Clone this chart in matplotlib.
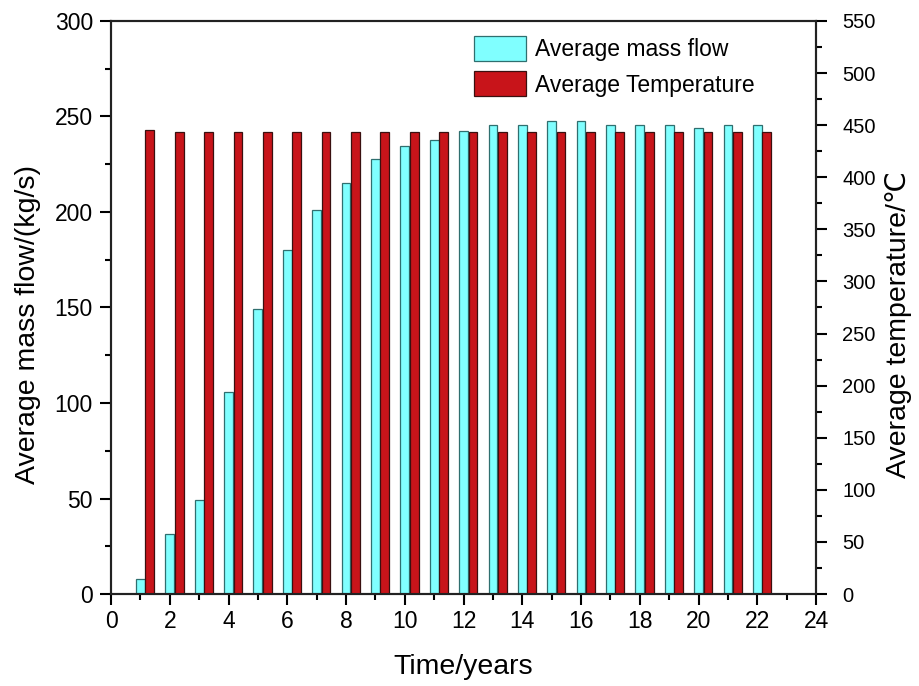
import numpy as np
import matplotlib
matplotlib.use("Agg")
import matplotlib.pyplot as plt
from matplotlib.ticker import MultipleLocator

plt.rcParams["font.family"] = ["Liberation Sans", "DejaVu Sans"]

# data
years = np.arange(1, 23)
mass_flow = [8.0, 31.3, 49.3, 105.7, 149.0, 180.0, 201.3, 215.3, 227.5, 234.8, 237.8,
             242.3, 245.6, 245.6, 247.9, 247.9, 245.6, 245.6, 245.6, 243.9, 245.6, 245.6]
temperature = [445.5, 443.0, 443.0, 443.0, 443.0, 443.0, 443.0, 443.0, 443.0, 443.0, 443.0,
               443.0, 443.0, 443.0, 443.0, 443.0, 443.0, 443.0, 443.0, 443.0, 443.0, 443.0]

bar_w = 0.3
cyan = "#80FFFF"
red = "#C8141A"

fig = plt.figure(figsize=(9.19, 6.86), dpi=100)
ax1 = fig.add_axes([0.1208, 0.1341, 0.7672, 0.8353])
ax2 = ax1.twinx()

b1 = ax1.bar(years, mass_flow, width=bar_w, color=cyan, edgecolor="#2F6F6F",
             linewidth=0.9, label="Average mass flow", zorder=2)
b2 = ax2.bar(years + 0.32, temperature, width=bar_w, color=red, edgecolor="#3A1010",
             linewidth=0.9, label="Average Temperature", zorder=2)

ax1.set_xlim(0, 24)
ax1.set_ylim(0, 300)
ax2.set_ylim(0, 550)

ax1.xaxis.set_major_locator(MultipleLocator(2))
ax1.xaxis.set_minor_locator(MultipleLocator(1))
ax1.yaxis.set_major_locator(MultipleLocator(50))
ax1.yaxis.set_minor_locator(MultipleLocator(25))
ax2.yaxis.set_major_locator(MultipleLocator(50))
ax2.yaxis.set_minor_locator(MultipleLocator(25))

for ax in (ax1, ax2):
    ax.tick_params(which="major", direction="out", length=8, width=1.5, labelsize=16.5)
    ax.tick_params(which="minor", direction="out", length=4, width=1.5)
    for s in ax.spines.values():
        s.set_linewidth(1.5)
        s.set_color("#222222")
ax1.tick_params(axis="x", which="both", top=False)
ax1.tick_params(axis="y", which="major", pad=5)
ax2.tick_params(axis="y", which="major", pad=11, labelsize=14.5)

ax1.set_xlabel("Time/years", fontsize=20.5, labelpad=15)
ax1.set_ylabel("Average mass flow/(kg/s)", fontsize=20.5)
ax2.set_ylabel("Average temperature/\u2103", fontsize=20.5)
ax1.yaxis.set_label_coords(-0.1, 0.47)
ax2.yaxis.set_label_coords(1.098, 0.47)

ax1.legend([b1, b2], ["Average mass flow", "Average Temperature"],
           loc="upper left", bbox_to_anchor=(0.485, 1.01), frameon=False,
           fontsize=16.5, handlelength=2.3, handleheight=1.3, handletextpad=0.4,
           labelspacing=0.45)

fig.savefig("out.png", dpi=100)
